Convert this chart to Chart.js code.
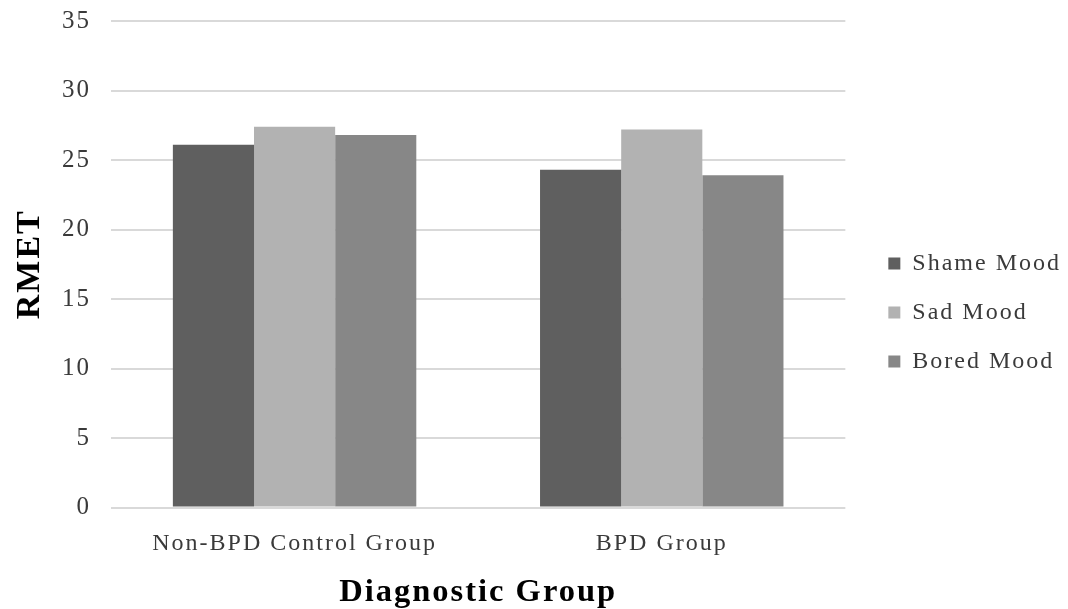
<!DOCTYPE html>
<html>
<head>
<meta charset="utf-8">
<script src="https://cdn.jsdelivr.net/npm/chart.js@4/dist/chart.umd.min.js"></script>
<style>
  html, body { margin: 0; padding: 0; background: #ffffff; }
  #wrap { width: 1068px; height: 609px; }
</style>
</head>
<body>
<div id="wrap"><canvas id="c" width="1068" height="609"></canvas></div>
<script>
// Mean RMET scores by diagnostic group and mood induction
const groups = ["Non-BPD Control Group", "BPD Group"];
const shameMood = [26.1, 24.3];
const sadMood = [27.4, 27.2];
const boredMood = [26.8, 23.9];
const yTicks = [0, 5, 10, 15, 20, 25, 30, 35];

const serif = "'Liberation Serif', 'Times New Roman', serif";

// Open letter spacing for all chart text, and a little room between
// the plot area and the legend column.
const textSpacing = {
  id: 'textSpacing',
  beforeUpdate(chart) {
    if ('letterSpacing' in chart.ctx) chart.ctx.letterSpacing = '2px';
  },
  beforeDraw(chart) {
    if ('letterSpacing' in chart.ctx) chart.ctx.letterSpacing = '2px';
    const lg = chart.legend;
    if (!lg) return;
    const w = lg.right - lg.left;
    const h = lg.bottom - lg.top;
    lg.left = chart.chartArea.right + 18;
    lg.right = lg.left + w;
    lg.top = chart.chartArea.top - 13;
    lg.bottom = lg.top + h;
  }
};

new Chart(document.getElementById('c'), {
  type: 'bar',
  data: {
    labels: groups,
    datasets: [
      { label: 'Shame Mood', data: shameMood, backgroundColor: '#5f5f5f' },
      { label: 'Sad Mood', data: sadMood, backgroundColor: '#b2b2b2' },
      { label: 'Bored Mood', data: boredMood, backgroundColor: '#878787' }
    ]
  },
  plugins: [textSpacing],
  options: {
    responsive: false,
    animation: false,
    layout: { padding: { top: 0, right: 15, left: 10, bottom: 0 } },
    datasets: { bar: { barPercentage: 1.0, categoryPercentage: 0.663 } },
    plugins: {
      legend: {
        position: 'right',
        align: 'center',
        labels: {
          boxWidth: 12,
          boxHeight: 12,
          padding: 25,
          color: '#3a3a3a',
          font: { family: serif, size: 24 }
        }
      },
      tooltip: { enabled: false }
    },
    scales: {
      x: {
        afterFit: (axis) => { axis.height = 101.5; },
        grid: { display: false },
        border: { display: false },
        ticks: { color: '#3a3a3a', font: { family: serif, size: 24 }, padding: 14 },
        title: {
          display: true,
          text: 'Diagnostic Group',
          color: '#000000',
          font: { family: serif, size: 32.5, weight: 'bold', lineHeight: 1.0 },
          padding: { top: 0, bottom: 0 }
        }
      },
      y: {
        min: 0,
        max: 35,
        afterFit: (axis) => {
          axis.width = 101;
          axis.paddingTop = 21;
          axis.paddingBottom = 20;
        },
        afterBuildTicks: (axis) => { axis.ticks = yTicks.map(v => ({ value: v })); },
        grid: { color: '#d9d9d9', lineWidth: 2, drawTicks: false },
        border: { display: false },
        ticks: { color: '#3a3a3a', font: { family: serif, size: 25 }, padding: 20 },
        title: {
          display: true,
          text: 'RMET',
          color: '#000000',
          font: { family: serif, size: 34, weight: 'bold' },
          padding: { top: 0, bottom: 12 }
        }
      }
    }
  }
});
</script>
</body>
</html>
